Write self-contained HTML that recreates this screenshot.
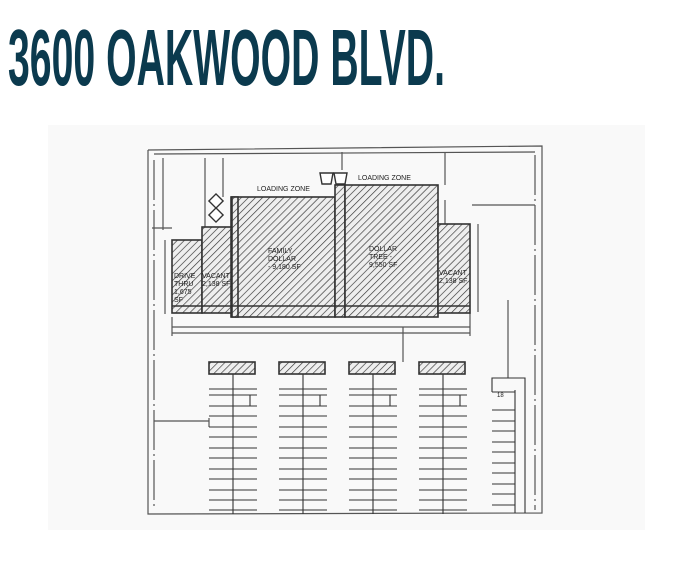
<!DOCTYPE html>
<html><head><meta charset="utf-8"><style>
html,body{margin:0;padding:0;background:#fff;width:693px;height:588px;overflow:hidden}
svg{display:block}
</style></head><body>
<svg width="693" height="588" viewBox="0 0 693 588" xmlns="http://www.w3.org/2000/svg">
<defs>
<pattern id="h" patternUnits="userSpaceOnUse" width="5" height="5" patternTransform="rotate(45)">
<rect width="5" height="5" fill="#eee"/><line x1="0" y1="0" x2="0" y2="5" stroke="#333" stroke-width="1.3"/>
</pattern>
</defs>
<text x="8" y="85" font-family="Liberation Sans Narrow, Liberation Sans, sans-serif" font-weight="bold" font-size="80" fill="#0b3a4e" textLength="437" lengthAdjust="spacingAndGlyphs">3600 OAKWOOD BLVD.</text>
<rect x="48" y="125" width="597" height="405" fill="#f9f9f9"/>
<g fill="none" stroke="#555" stroke-width="1.2">
<polyline points="148,150 148,514 542,513 542,146 148,150"/>
<line x1="154" y1="160" x2="154" y2="510" stroke-dasharray="40 4 2 4"/>
<line x1="535" y1="155" x2="535" y2="510" stroke-dasharray="40 4 2 4"/>
<line x1="154" y1="154" x2="535" y2="152"/>
<line x1="163" y1="158" x2="163" y2="230"/>
<line x1="205" y1="158" x2="205" y2="227"/>
<line x1="223" y1="158" x2="223" y2="197"/>
<line x1="342" y1="152" x2="342" y2="170"/>
<line x1="445" y1="152" x2="445" y2="185"/>
<line x1="445" y1="200" x2="445" y2="224"/>
<line x1="472" y1="205" x2="535" y2="205"/>
<line x1="478" y1="224" x2="478" y2="312"/>
<line x1="165" y1="240" x2="165" y2="314"/>
<line x1="152" y1="228" x2="172" y2="228"/>
<line x1="172" y1="327" x2="470" y2="327"/>
<line x1="172" y1="333" x2="470" y2="333"/>
<line x1="172" y1="317" x2="172" y2="336"/>
<line x1="470" y1="313" x2="470" y2="336"/>
<line x1="403" y1="327" x2="403" y2="362"/>
<line x1="508" y1="300" x2="508" y2="378"/>
<line x1="154" y1="421" x2="209" y2="421"/>
<line x1="209" y1="418" x2="209" y2="427"/>
</g>
<g stroke="#333" stroke-width="1.6" fill="url(#h)">
<rect x="172" y="240" width="30" height="73"/>
<rect x="202" y="227" width="30" height="86"/>
<rect x="231" y="197" width="104" height="120"/>
<rect x="335" y="185" width="10" height="132"/>
<rect x="345" y="185" width="93" height="132"/>
<rect x="438" y="224" width="32" height="89"/>
<rect x="232" y="197" width="6" height="120"/>
<line x1="172" y1="306" x2="470" y2="306" fill="none"/>
<rect x="209" y="362" width="46" height="12"/>
<rect x="279" y="362" width="46" height="12"/>
<rect x="349" y="362" width="46" height="12"/>
<rect x="419" y="362" width="46" height="12"/>
</g>
<g stroke="#333" stroke-width="1.4" fill="#fff">
<rect x="211" y="196" width="10" height="10" transform="rotate(45 216 201)"/>
<rect x="211" y="210" width="10" height="10" transform="rotate(45 216 215)"/>
<path d="M320,173 L333,173 L331,184 L322,184 Z"/>
<path d="M334,173 L347,173 L345,184 L336,184 Z"/>
</g>
<g font-family="Liberation Sans, sans-serif" font-size="7" fill="#222">
<text x="257" y="191">LOADING ZONE</text>
<text x="358" y="180">LOADING ZONE</text>
<text x="268" y="253">FAMILY</text><text x="268" y="261">DOLLAR</text><text x="268" y="269">- 9,180 SF</text>
<text x="369" y="251">DOLLAR</text><text x="369" y="259">TREE -</text><text x="369" y="267">9,550 SF</text>
<text x="174" y="278">DRIVE</text><text x="174" y="286">THRU</text><text x="174" y="294">1,675</text><text x="174" y="302">SF</text>
<text x="202" y="278">VACANT</text><text x="202" y="286">2,138 SF</text>
<text x="439" y="275">VACANT</text><text x="439" y="283">2,138 SF</text>
<text x="497" y="397" font-size="6">18</text>
</g>
<g stroke="#333" stroke-width="1.1">
<g id="r">
<line x1="233" y1="374" x2="233" y2="514"/>
<line x1="209" y1="389" x2="257" y2="389"/>
<line x1="209" y1="395" x2="257" y2="395"/>
<line x1="209" y1="406" x2="257" y2="406"/><line x1="209" y1="416" x2="257" y2="416"/>
<line x1="209" y1="427" x2="257" y2="427"/><line x1="209" y1="437" x2="257" y2="437"/>
<line x1="209" y1="448" x2="257" y2="448"/><line x1="209" y1="458" x2="257" y2="458"/>
<line x1="209" y1="469" x2="257" y2="469"/><line x1="209" y1="479" x2="257" y2="479"/>
<line x1="209" y1="490" x2="257" y2="490"/><line x1="209" y1="500" x2="257" y2="500"/>
<line x1="209" y1="510" x2="257" y2="510"/>
<line x1="250" y1="395" x2="250" y2="406"/>
</g>
<use href="#r" x="70"/><use href="#r" x="140"/><use href="#r" x="210"/>
<polyline fill="none" points="492,392 492,378 525,378 525,513"/>
<line x1="515" y1="390" x2="515" y2="513"/>
<line x1="492" y1="392" x2="515" y2="392"/>
<line x1="492" y1="410" x2="515" y2="410"/><line x1="492" y1="421" x2="515" y2="421"/>
<line x1="492" y1="431" x2="515" y2="431"/><line x1="492" y1="442" x2="515" y2="442"/>
<line x1="492" y1="452" x2="515" y2="452"/><line x1="492" y1="463" x2="515" y2="463"/>
<line x1="492" y1="473" x2="515" y2="473"/><line x1="492" y1="484" x2="515" y2="484"/>
<line x1="492" y1="494" x2="515" y2="494"/><line x1="492" y1="505" x2="515" y2="505"/>
</g>
</svg>
</body></html>
